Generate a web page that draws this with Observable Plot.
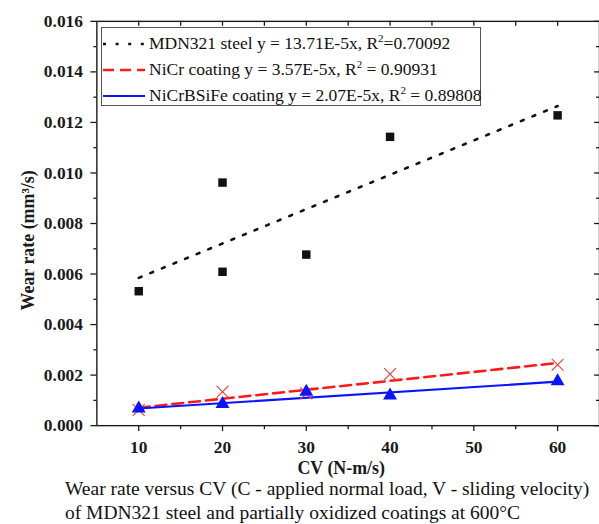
<!DOCTYPE html>
<html>
<head>
<meta charset="utf-8">
<script src="https://cdn.jsdelivr.net/npm/d3@7"></script>
<script src="https://cdn.jsdelivr.net/npm/@observablehq/plot@0.6"></script>
<style>
html, body { margin: 0; padding: 0; background: #fff; }
#wrap { position: relative; width: 599px; height: 524px; overflow: hidden; }
#legend { position: absolute; left: 101px; top: 27px; width: 380px; height: 79px; box-sizing: border-box;
  border: 1px solid #555; background: #fff; font-family: "Liberation Serif", "Times New Roman", Times, serif; font-size: 17.5px; padding-top: 3px; color: #111; }
.row { height: 26px; line-height: 26px; display: flex; align-items: center; white-space: nowrap; }
.row svg { width: 42px; height: 10px; margin-left: 1px; margin-right: 4px; flex: none; }
.row sup { font-size: 11px; vertical-align: 0; position: relative; top: -7px; }
#caption { font-family: "Liberation Serif", "Times New Roman", Times, serif; font-size: 19.5px; line-height: 24.5px; padding-left: 65px; padding-top: 0px; white-space: nowrap; color: #111; }
</style>
</head>
<body>
<div id="wrap">
  <div id="chart"></div>
  <div id="legend"></div>
  <div id="caption"></div>
</div>
<script>
// ---- data ----
const mdnX = [10, 20, 20, 30, 40, 60];
const mdn321 = [0.00532, 0.00962, 0.00609, 0.00677, 0.01143, 0.01228];
const coatX = [10, 20, 30, 40, 60];
const nicr = [0.00062, 0.00134, 0.00128, 0.00204, 0.00241];
const nicrbsife = [0.00068, 0.00086, 0.00134, 0.00119, 0.00176];
const fitX = [10, 60];
const mdnFit = [0.00585, 0.01265];
const nicrFit = [0.00071, 0.00248];
const nicrbsifeFit = [0.00068, 0.00174];
const xMajor = [10, 20, 30, 40, 50, 60];
const xMinor = [15, 25, 35, 45, 55];
const yMajor = [0, 0.002, 0.004, 0.006, 0.008, 0.010, 0.012, 0.014, 0.016];
const yMinor = [0.001, 0.003, 0.005, 0.007, 0.009, 0.011, 0.013, 0.015];
const legendLabels = [
  "MDN321 steel y = 13.71E-5x, R<sup>2</sup>=0.70092",
  "NiCr coating y = 3.57E-5x, R<sup>2</sup> = 0.90931",
  "NiCrBSiFe coating y = 2.07E-5x, R<sup>2</sup> = 0.89808"
];
const xLabel = "CV (N-m/s)";
const yLabel = "Wear rate (mm³/s)";
const captionLines = [
  "Wear rate versus CV (C - applied normal load, V - sliding velocity)",
  "of MDN321 steel and partially oxidized coatings at 600°C"
];

// ---- tables ----
const mdnPts = mdnX.map((x, i) => ({x, y: mdn321[i]}));
const nicrPts = coatX.map((x, i) => ({x, y: nicr[i]}));
const nbPts = coatX.map((x, i) => ({x, y: nicrbsife[i]}));
const fitRows = fitX.map((x, i) => ({x, mdn: mdnFit[i], nicr: nicrFit[i], nb: nicrbsifeFit[i]}));

const W = 603, H = 480, mL = 97, mR = 0, mT = 21, mB = 52;
const frameW = W - mL - mR, frameH = H - mT - mB;
const ink = "#1a1a1a";
const serif = '"Liberation Serif", "Times New Roman", Times, serif';

const chart = Plot.plot({
  width: W, height: H,
  marginLeft: mL, marginRight: mR, marginTop: mT, marginBottom: mB,
  x: {domain: [5, 65]},
  y: {domain: [0, 0.016]},
  style: {fontFamily: serif, fontSize: "17.5px", fontWeight: "bold", color: ink, background: "transparent", overflow: "visible"},
  marks: [
    // axes
    Plot.axisY(yMajor, {anchor: "left", tickSize: 6, tickPadding: 8, tickFormat: d3.format(".3f"), label: null, strokeWidth: 1.3, fontFamily: serif}),
    Plot.axisY(yMinor, {anchor: "left", tickSize: 3, tickFormat: () => "", fill: "none", label: null, strokeWidth: 1.3}),
    Plot.axisX(xMajor, {anchor: "bottom", tickSize: 6, tickPadding: 9.5, tickFormat: d => String(d), label: null, strokeWidth: 1.3, fontFamily: serif}),
    Plot.axisX(xMinor, {anchor: "bottom", tickSize: 4, tickFormat: () => "", fill: "none", label: null, strokeWidth: 1.3}),
    Plot.tickX(xMajor.concat(xMinor), {x: d => d, insetBottom: frameH - 5, stroke: ink, strokeWidth: 1.3}),
    Plot.tickY(yMajor, {y: d => d, insetLeft: frameW - 5, stroke: ink, strokeWidth: 1.3}),
    Plot.tickY(yMinor, {y: d => d, insetLeft: frameW - 3, stroke: ink, strokeWidth: 1.3}),
    Plot.frame({stroke: ink, strokeWidth: 1.4}),
    // fits
    Plot.line(fitRows, {x: "x", y: "mdn", stroke: "#111", strokeWidth: 2.6, strokeDasharray: "3,9.6"}),
    Plot.line(fitRows, {x: "x", y: "nicr", stroke: "#ff1a1a", strokeWidth: 2.6, strokeDasharray: "11,6"}),
    Plot.line(fitRows, {x: "x", y: "nb", stroke: "#0a14ff", strokeWidth: 2.2}),
    // points
    Plot.dot(mdnPts, {x: "x", y: "y", symbol: "square", r: 4.8, fill: "#111", stroke: "none"}),
    Plot.dot(nicrPts, {x: "x", y: "y", symbol: "times", r: 5.5, stroke: "#ee3b36", strokeWidth: 1.1, fill: "none"}),
    Plot.dot(nbPts, {x: "x", y: "y", symbol: "triangle", r: 5.2, fill: "#0a14ff", stroke: "none"}),
    // axis titles
    Plot.text([xLabel], {text: d => d, frameAnchor: "bottom", lineAnchor: "middle", textAnchor: "middle", dy: 43, dx: -7, fontSize: 18, fontWeight: "bold", fontFamily: serif, fill: ink}),
    Plot.text([yLabel], {text: d => d, frameAnchor: "left", lineAnchor: "middle", textAnchor: "middle", rotate: -90, dx: -69, dy: 17, fontSize: 18, fontWeight: "bold", fontFamily: serif, fill: ink})
  ]
});
document.getElementById("chart").appendChild(chart);

// legend (HTML overlay inside the frame)
const styles = [
  {stroke: "#111", width: 2.6, dash: "3,9.6"},
  {stroke: "#ff1a1a", width: 2.6, dash: "11,6"},
  {stroke: "#0a14ff", width: 2.2, dash: null}
];
document.getElementById("legend").innerHTML = legendLabels.map((t, i) => {
  const s = styles[i];
  return `<div class="row"><svg viewBox="0 0 42 10"><line x1="0" x2="42" y1="5" y2="5" stroke="${s.stroke}" stroke-width="${s.width}" ${s.dash ? `stroke-dasharray="${s.dash}"` : ""}/></svg><span>${t}</span></div>`;
}).join("");

document.getElementById("caption").innerHTML = captionLines.map(l => `<div>${l}</div>`).join("");
</script>
</body>
</html>
